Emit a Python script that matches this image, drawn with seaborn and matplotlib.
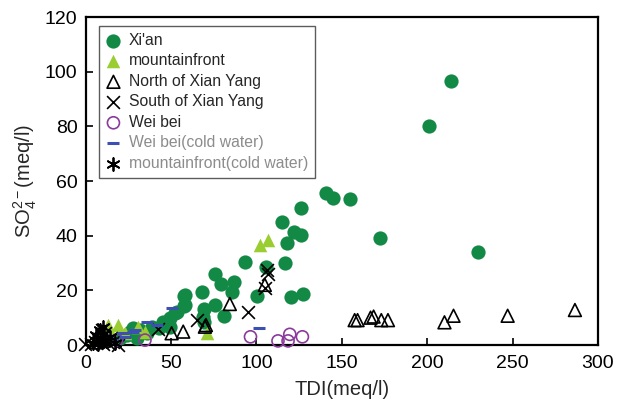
import matplotlib
matplotlib.use("Agg")
import matplotlib.pyplot as plt
import numpy as np
import pandas as pd
import seaborn as sns

# ---- data (TDI, SO4) ----
xian_x = [214, 201, 230, 141, 145, 155, 172.5, 126, 126, 127.5, 115, 122, 118, 117,
          93, 105.5, 76, 79.5, 87, 85.5, 100.5, 120, 68, 69, 76, 81, 57.5, 57.5,
          52.5, 69.5, 49.5, 58.1, 58.1, 53.2, 49.3, 45.4, 38.6, 31.8, 27.8, 25.9,
          24, 20, 36, 30, 43, 68.8]
xian_y = [96.6, 80.2, 34.1, 55.7, 53.7, 53.3, 39.3, 50, 40.2, 18.7, 44.9, 41.5, 37.4, 30.1,
          30.5, 28.7, 26, 22.3, 22.9, 19.5, 17.9, 17.4, 19.5, 13.1, 14.6, 10.7, 17.9, 14.3,
          11.8, 8.5, 6.7, 18.3, 14.6, 12.2, 9.8, 8.5, 6.7, 5.5, 6.1, 4.9,
          3.7, 2.4, 4.3, 2.4, 6.1, 10.4]

mtf_x = [102, 106.8, 70.8, 13.2, 19.1, 30.8, 8.4, 23, 15.4, 5.4, 34.7]
mtf_y = [36.6, 38.4, 4.3, 7.3, 7.3, 6.7, 5.5, 4.4, 3.7, 2.6, 4.8]

north_x = [157.5, 159.2, 166.8, 168.6, 173.1, 177, 210.1, 215.4, 247.1, 286.5,
           84.4, 104.9, 70.4, 69.8, 57.1, 50.3, 6, 10]
north_y = [9.1, 9.1, 10, 10.4, 9.1, 9.1, 8.3, 10.7, 10.7, 12.8,
           15, 22, 7.3, 6.7, 4.9, 4.3, 1, 2]

south_x = [105.9, 106.8, 104.9, 95.1, 64.9, 42.5, -0.5, 9.4, 11.3, 5.4, 16.1, 19,
           3, 7, 13, 10, 15]
south_y = [27.4, 26, 20.7, 12.2, 9.1, 5.7, 0.3, 5.5, 4.3, 1.2, 1.2, 0,
           0.5, 2, 0.8, 0.2, 2.5]

weibei_x = [96.5, 112.6, 118.5, 119.5, 126.9, 34.7, 18.1]
weibei_y = [3.0, 1.5, 1.5, 3.9, 3.0, 1.8, 1.8]

weibei_cold_x = [101.5, 50.3, 35.7, 28.8, 22, 16.1, 23, 41.5, 27.8, 13]
weibei_cold_y = [6.1, 13.4, 8.5, 5.5, 4.3, 1.8, 3.0, 7.3, 4.9, 2.6]

mtf_cold_x = [10.3, 8.4, 6, 9, 12, 4, 7, 14, 17, 11]
mtf_cold_y = [6.7, 5.5, 3.5, 2.5, 1.5, 0.8, 0.3, 3, 0.8, 4]

sns.set_style("ticks")
plt.rcParams["font.family"] = ["Liberation Sans", "DejaVu Sans"]
plt.rcParams["mathtext.fontset"] = "custom"
plt.rcParams["mathtext.rm"] = "Liberation Sans"
plt.rcParams["mathtext.it"] = "Liberation Sans:italic"

fig = plt.figure(figsize=(6.18, 4.08), dpi=100)
ax = fig.add_axes([0.1387, 0.1544, 0.9676 - 0.1387, 0.9583 - 0.1544])

green = "#128a45"
lightgreen = "#9acd32"
purple = "#8b3a9c"
blue = "#3b50b2"

sns.scatterplot(x=xian_x, y=xian_y, ax=ax, marker="o", color=green, s=105,
                linewidth=0, label="Xi'an", clip_on=False, zorder=3)
sns.scatterplot(x=mtf_x, y=mtf_y, ax=ax, marker="^", color=lightgreen, s=95,
                linewidth=0, label="mountainfront", clip_on=False, zorder=3)
sns.scatterplot(x=north_x, y=north_y, ax=ax, marker="^", facecolors="none",
                edgecolor="black", s=85, linewidth=1.2, label="North of Xian Yang",
                clip_on=False, zorder=4)
sns.scatterplot(x=south_x, y=south_y, ax=ax, marker="x", color="black", s=85,
                linewidth=1.2, label="South of Xian Yang", clip_on=False, zorder=4)
sns.scatterplot(x=weibei_x, y=weibei_y, ax=ax, marker="o", facecolors="none",
                edgecolor=purple, s=75, linewidth=1.2, label="Wei bei",
                clip_on=False, zorder=4)
sns.scatterplot(x=weibei_cold_x, y=weibei_cold_y, ax=ax, marker="_", color=blue,
                s=65, linewidth=2.2, label="Wei bei(cold water)", clip_on=False, zorder=4)
sns.scatterplot(x=mtf_cold_x, y=mtf_cold_y, ax=ax, marker=(6, 2, 0), color="black",
                s=85, linewidth=1.3, label="mountainfront(cold water)",
                clip_on=False, zorder=5)

ax.set_xlim(0, 300)
ax.set_ylim(0, 120)
ax.set_xticks([0, 50, 100, 150, 200, 250, 300])
ax.set_yticks([0, 20, 40, 60, 80, 100, 120])
ax.tick_params(direction="in", length=5, width=1.2, labelsize=14, colors="black")
ax.tick_params(axis="x", pad=7)
ax.tick_params(axis="y", pad=6)
for sp in ax.spines.values():
    sp.set_visible(True)
    sp.set_linewidth(1.6)
    sp.set_color("black")

ax.set_xlabel("TDI(meq/l)", fontsize=14.5, labelpad=6)
ax.set_ylabel(r"SO$_4^{2-}$(meq/l)", fontsize=14.5, labelpad=4)

leg = ax.legend(loc="upper left", bbox_to_anchor=(0.025, 0.973), borderaxespad=0,
                fontsize=11.3, frameon=True, fancybox=False, handlelength=1.0,
                handletextpad=0.5, labelspacing=0.35, borderpad=0.45)
leg.get_frame().set_edgecolor("#333333")
leg.get_frame().set_linewidth(1.0)
for t in leg.get_texts()[5:]:
    t.set_color("#8c8c8c")

fig.savefig("out.png", dpi=100)
